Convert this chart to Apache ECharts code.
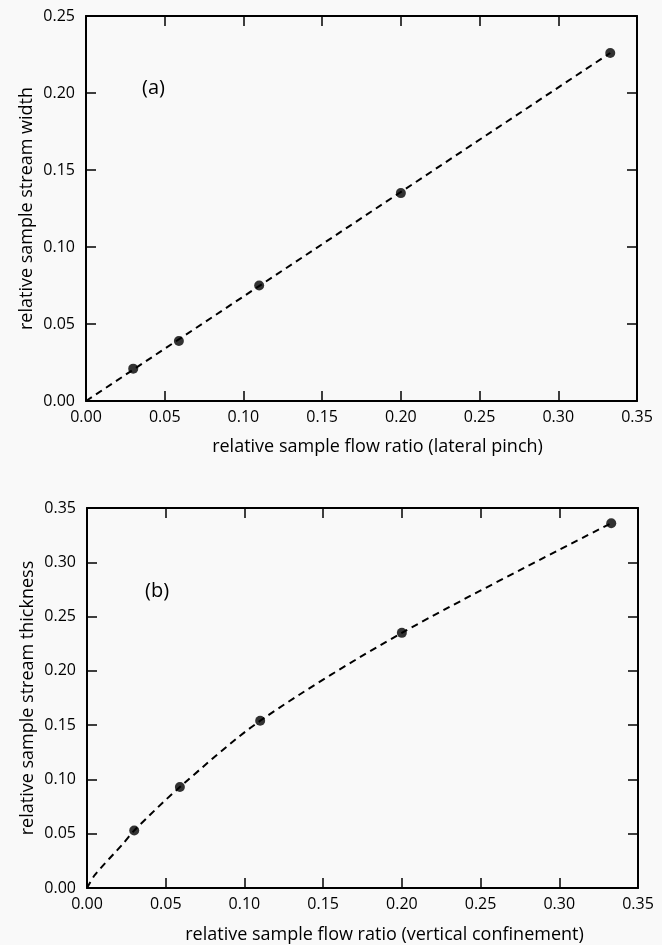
<!DOCTYPE html>
<html>
<head>
<meta charset="utf-8">
<script src="https://cdn.jsdelivr.net/npm/echarts@6/dist/echarts.min.js"></script>
<style>
  html, body { margin: 0; padding: 0; background: #f9f9f9; }
  #chart { width: 662px; height: 945px; }
</style>
</head>
<body>
<div id="chart"></div>
<script>
// panel (a): lateral pinch
const flowA = [0.030, 0.059, 0.110, 0.200, 0.333];
const widthA = [0.021, 0.039, 0.075, 0.135, 0.226];
const fitFlowA = [0, 0.333];
const fitWidthA = [0, 0.226];

// panel (b): vertical confinement
const flowB = [0.030, 0.059, 0.110, 0.200, 0.333];
const thickB = [0.053, 0.093, 0.154, 0.235, 0.336];
const fitFlowB = [0, 0.005, 0.023, 0.030, 0.059, 0.110, 0.200, 0.333];
const fitThickB = [0, 0.012, 0.041, 0.053, 0.093, 0.154, 0.235, 0.336];

const xTicks = [0, 0.35, 0.05];
const yTicksA = [0, 0.25, 0.05];
const yTicksB = [0, 0.35, 0.05];

const FONT = '"Open Sans", sans-serif';
const INK = '#000';

function pairs(xs, ys) {
    return xs.map((x, i) => [x, ys[i]]);
}

// one axis of the frame; labelled ones carry text, the others only ticks
function axis(kind, grid, pos, range, labelled, name, nameGap, pad) {
    const a = {
        type: 'value',
        gridIndex: grid,
        position: pos,
        min: range[0], max: range[1], interval: range[2],
        splitLine: { show: false },
        axisLine: { show: true, onZero: false, lineStyle: { color: INK, width: 2 } },
        axisTick: { show: true, inside: true, length: 10, lineStyle: { color: INK, width: 1.5 } },
        axisLabel: {
            show: labelled,
            margin: kind === 'x' ? 8 : 11,
            color: INK, fontFamily: FONT, fontSize: 16,
            formatter: v => v.toFixed(2)
        }
    };
    if (name) {
        a.name = name;
        a.nameLocation = 'middle';
        a.nameGap = nameGap;
        a.nameMoveOverlap = false;
        a.nameTextStyle = { color: INK, fontFamily: FONT, fontSize: 18, padding: pad || 0 };
    }
    return a;
}

const chart = echarts.init(document.getElementById('chart'));
chart.setOption({
    backgroundColor: '#f9f9f9',
    animation: false,
    title: [
        { text: '(a)', left: 137, top: 73, textStyle: { color: INK, fontFamily: FONT, fontSize: 20, fontWeight: 'normal' } },
        { text: '(b)', left: 140, top: 576, textStyle: { color: INK, fontFamily: FONT, fontSize: 20, fontWeight: 'normal' } }
    ],
    grid: [
        { left: 86, top: 16, width: 551, height: 385 },
        { left: 87, top: 508, width: 551, height: 382 }
    ],
    xAxis: [
        axis('x', 0, 'bottom', xTicks, true, 'relative sample flow ratio (lateral pinch)', 37, [0, 0, 0, 32]),
        axis('x', 0, 'top', xTicks, false),
        axis('x', 1, 'bottom', xTicks, true, 'relative sample flow ratio (vertical confinement)', 38, [0, 0, 0, 44]),
        axis('x', 1, 'top', xTicks, false)
    ],
    yAxis: [
        axis('y', 0, 'left', yTicksA, true, 'relative sample stream width', 50),
        axis('y', 0, 'right', yTicksA, false),
        axis('y', 1, 'left', yTicksB, true, 'relative sample stream thickness', 50),
        axis('y', 1, 'right', yTicksB, false)
    ],
    series: [
        {
            type: 'line', xAxisIndex: 0, yAxisIndex: 0,
            data: pairs(fitFlowA, fitWidthA), showSymbol: false,
            lineStyle: { color: INK, width: 2, type: [7, 5] }
        },
        {
            type: 'scatter', xAxisIndex: 0, yAxisIndex: 0,
            data: pairs(flowA, widthA), symbolSize: 10,
            itemStyle: { color: INK }
        },
        {
            type: 'line', xAxisIndex: 2, yAxisIndex: 2,
            data: pairs(fitFlowB, fitThickB), showSymbol: false, smooth: 0.3,
            lineStyle: { color: INK, width: 2, type: [7, 5] }
        },
        {
            type: 'scatter', xAxisIndex: 2, yAxisIndex: 2,
            data: pairs(flowB, thickB), symbolSize: 10,
            itemStyle: { color: INK }
        }
    ]
});
</script>
</body>
</html>
